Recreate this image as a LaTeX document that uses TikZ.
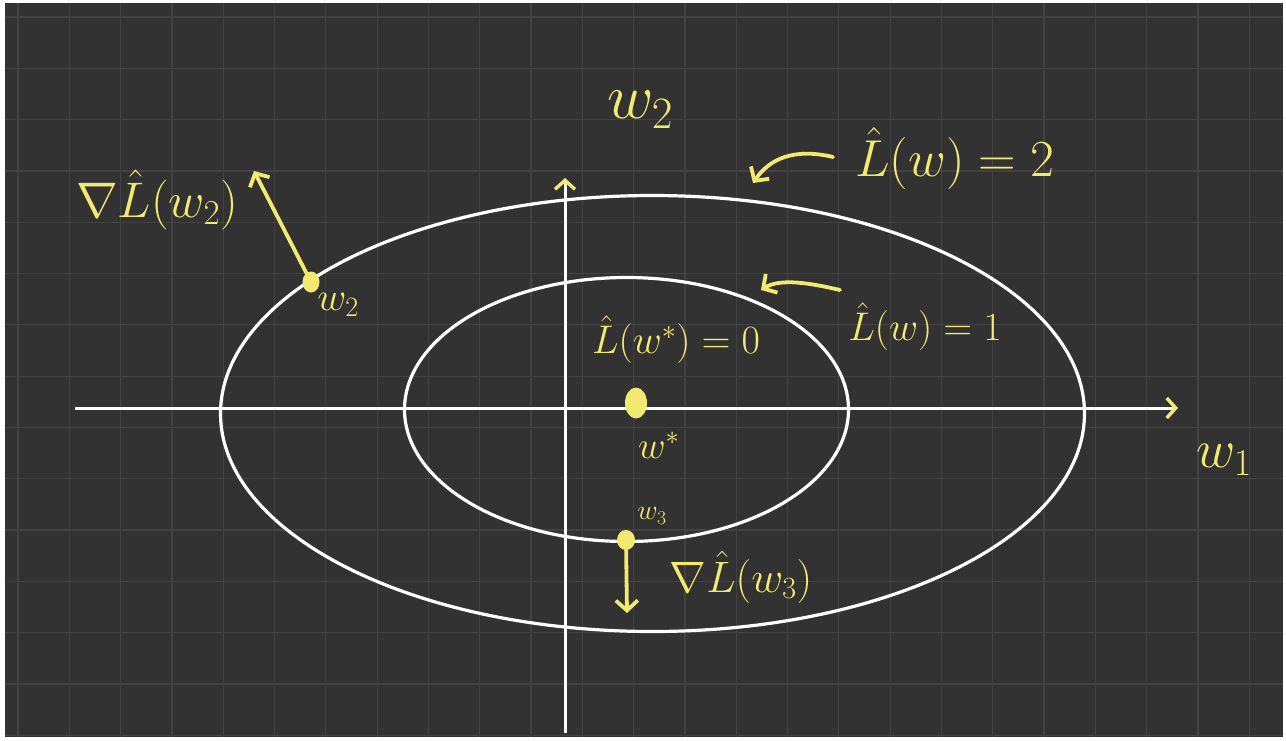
\documentclass[tikz,border=0pt]{standalone}
\usepackage{fix-cm}
\usetikzlibrary{arrows.meta, positioning, shapes.geometric}
\definecolor{board}{RGB}{50,50,50}
\definecolor{gridgray}{RGB}{66,66,66}
\definecolor{chalk}{RGB}{242,234,112}

\begin{document}
\begin{tikzpicture}[
  x=1pt, y=-1pt,
  level/.style = {draw=white, line width=3.2pt},
  axis/.style = {draw=white, line width=3pt,
    -{Straight Barb[length=9pt, width=20pt, color=chalk, line width=3.4pt]}},
  arr/.style = {draw=chalk, line width=3.8pt, line cap=round,
    -{Straight Barb[length=10pt, width=22pt, line width=3.8pt]}},
  dot/.style = {ellipse, fill=chalk, inner sep=0pt},
  label/.style = {text=chalk, inner sep=0pt, font=\fontsize{44}{50}\selectfont},
  small label/.style = {label, font=\fontsize{40}{46}\selectfont},
]

% board and grid
\useasboundingbox (0,0) rectangle (1286,740);
\fill[white] (0,0) rectangle (1286,740);
\fill[board] (5,3) rectangle (1283,737);
\begin{scope}
  \clip (5,3) rectangle (1283,737);
  \foreach \i in {0,...,24}
    \draw[gridgray, line width=1.2pt] ({18+51.3*\i},3) -- ({18+51.3*\i},737);
  \foreach \j in {0,...,14}
    \draw[gridgray, line width=1.2pt] (5,{17+51.3*\j}) -- (1283,{17+51.3*\j});
\end{scope}

% level sets
\draw[level] (652.5,413.5) ellipse [x radius=432, y radius=218];
\draw[level] (626.5,409.5) ellipse [x radius=222, y radius=132];

% axes
\coordinate (x-start) at (75,408);
\coordinate (x-end)   at (1178,408);
\coordinate (y-start) at (565,733);
\coordinate (y-end)   at (565,178);
\draw[axis] (x-start) -- (x-end);
\draw[axis] (y-start) -- (y-end);
\node[label, font=\fontsize{54}{60}\selectfont] (w1-lab) at (1224,460) {$w_1$};
\node[label, font=\fontsize{64}{70}\selectfont] (w2-lab) at (640,110)  {$w_2$};

% minimiser
\node[dot, minimum width=22pt, minimum height=31pt] (wstar) at (636,403) {};
\node[small label, font=\fontsize{38}{44}\selectfont] (wstar-lab)
  [below right=18pt and -6pt of wstar] {$w^{*}$};
\node[label, font=\fontsize{40}{46}\selectfont] (L0) at (676,340) {$\hat{L}(w^{*})=0$};

% level labels
\node[label, font=\fontsize{52}{58}\selectfont] (L2) at (955,158) {$\hat{L}(w)=2$};
\node[label, font=\fontsize{40}{46}\selectfont] (L1) at (925,327) {$\hat{L}(w)=1$};
\coordinate (on-outer) at (753,183);
\coordinate (on-inner) at (761,290);
\draw[arr] (833,157) .. controls (795,148) and (770,158) .. (on-outer);
\draw[arr] (840,290) .. controls (810,283) and (780,278) .. (on-inner);

% gradient at w_2
\node[dot, minimum width=17pt, minimum height=21pt] (w2) at (311,282) {};
\node[small label] (w2-pt) [below right=4pt and 0pt of w2] {$w_2$};
\coordinate (g2-tip) at (254,171);
\draw[arr] (w2) -- (g2-tip);
\node[label, font=\fontsize{50}{56}\selectfont] (g2-lab) at (157,200) {$\nabla\hat{L}(w_2)$};

% gradient at w_3
\node[dot, minimum width=18pt, minimum height=20pt] (w3) at (626,540) {};
\node[label, font=\fontsize{28}{32}\selectfont] (w3-pt) at (652,516) {$w_3$};
\coordinate (g3-tip) at (627,613);
\draw[arr] (w3) -- (g3-tip);
\node[label] (g3-lab) at (741,577) {$\nabla\hat{L}(w_3)$};

\end{tikzpicture}
\end{document}
